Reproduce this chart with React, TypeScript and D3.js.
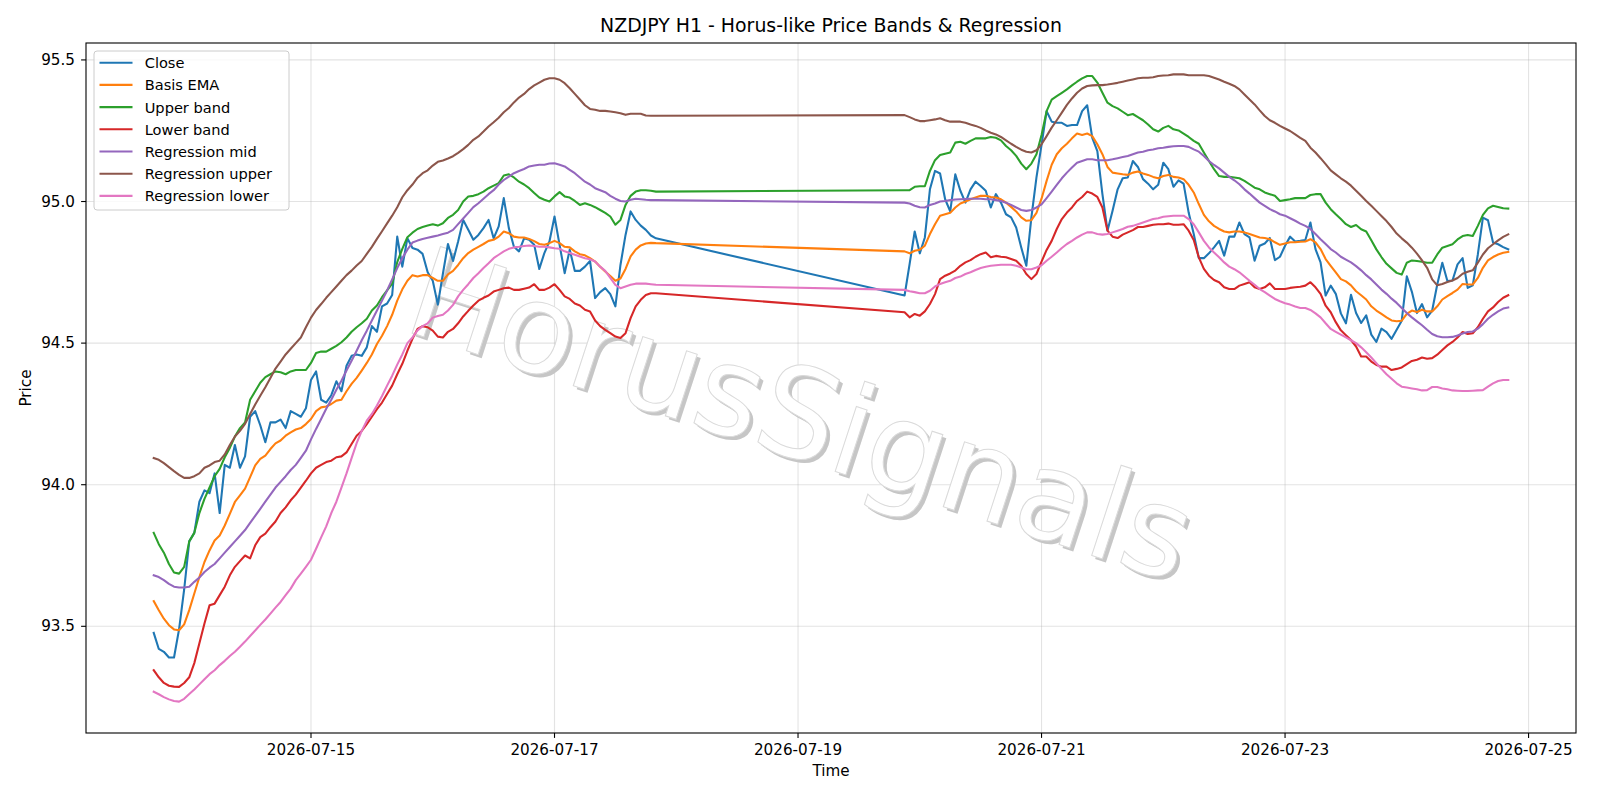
import React from "react";
import * as d3 from "d3";

// ---------- DATA ----------
const T0 = Date.UTC(2026, 6, 13, 17); // first hourly bar
const HOUR = 3600e3;
// hourly bars: Mon 13 17:00 .. Fri 17 20:00, then Sun 19 21:00 .. Fri 24 20:00
const hourOffsets: number[] = [...d3.range(0, 100), ...d3.range(148, 268)];
const times: Date[] = hourOffsets.map((h) => new Date(T0 + h * HOUR));

const closeVals = [
  93.477, 93.42, 93.41, 93.39, 93.39, 93.49, 93.63, 93.80, 93.83, 93.94,
  93.98, 93.97, 94.04, 93.90, 94.07, 94.06, 94.14, 94.06, 94.10, 94.24,
  94.26, 94.21, 94.15, 94.22, 94.22, 94.23, 94.20, 94.26, 94.25, 94.24,
  94.27, 94.37, 94.40, 94.30, 94.29, 94.316, 94.365, 94.33, 94.42, 94.455,
  94.46, 94.455, 94.485, 94.56, 94.54, 94.63, 94.64, 94.67, 94.876, 94.77,
  94.87, 94.836, 94.83, 94.815, 94.75, 94.72, 94.636, 94.745, 94.85, 94.79,
  94.859, 94.935, 94.90, 94.865, 94.882, 94.906, 94.935, 94.87, 94.912, 95.012,
  94.906, 94.84, 94.824, 94.87, 94.865, 94.847, 94.762, 94.818, 94.859, 94.947,
  94.847, 94.747, 94.83, 94.755, 94.755, 94.77, 94.79, 94.659, 94.68, 94.694,
  94.673, 94.63, 94.776, 94.882, 94.965, 94.935, 94.915, 94.90, 94.88, 94.87,
  94.668, 94.78, 94.894, 94.817, 94.873, 95.043, 95.108, 95.099, 95.008, 94.965,
  95.096, 95.038, 94.996, 95.043, 95.07, 95.055, 95.038, 94.979, 95.026, 94.996,
  94.955, 94.944, 94.908, 94.838, 94.773, 94.944, 95.085, 95.2, 95.319, 95.282,
  95.278, 95.278, 95.267, 95.27, 95.27, 95.319, 95.34, 95.225, 95.178, 95.026,
  94.897, 94.967, 95.043, 95.082, 95.085, 95.143, 95.122, 95.079, 95.063, 95.043,
  95.059, 95.137, 95.114, 95.052, 95.075, 95.063, 94.961, 94.885, 94.80, 94.80,
  94.817, 94.838, 94.861, 94.809, 94.876, 94.876, 94.926, 94.885, 94.873, 94.791,
  94.844, 94.852, 94.871, 94.793, 94.805, 94.844, 94.876, 94.859, 94.861, 94.864,
  94.926, 94.832, 94.785, 94.668, 94.703, 94.674, 94.605, 94.57, 94.671, 94.606,
  94.571, 94.598, 94.53, 94.504, 94.551, 94.539, 94.515, 94.547, 94.579, 94.736,
  94.681, 94.606, 94.638, 94.591, 94.615, 94.707, 94.784, 94.719, 94.721, 94.778,
  94.80, 94.695, 94.704, 94.813, 94.943, 94.934, 94.855, 94.849, 94.839, 94.831,
];

const basisEma = [
  93.589, 93.557, 93.527, 93.504, 93.489, 93.486, 93.507, 93.557, 93.616, 93.674,
  93.727, 93.768, 93.803, 93.821, 93.856, 93.897, 93.939, 93.962, 93.986, 94.027,
  94.068, 94.091, 94.103, 94.126, 94.146, 94.156, 94.173, 94.185, 94.195, 94.20,
  94.214, 94.232, 94.26, 94.273, 94.276, 94.285, 94.297, 94.30, 94.33, 94.356,
  94.377, 94.403, 94.43, 94.46, 94.497, 94.526, 94.56, 94.60, 94.65, 94.69,
  94.72, 94.74, 94.735, 94.74, 94.74, 94.73, 94.72, 94.72, 94.743, 94.755,
  94.776, 94.80, 94.818, 94.83, 94.84, 94.85, 94.861, 94.865, 94.876, 94.894,
  94.888, 94.876, 94.873, 94.873, 94.868, 94.86, 94.85, 94.847, 94.853, 94.861,
  94.853, 94.84, 94.838, 94.824, 94.814, 94.81, 94.80, 94.788, 94.77, 94.753,
  94.737, 94.72, 94.728, 94.762, 94.806, 94.83, 94.845, 94.852, 94.854, 94.853,
  94.824, 94.817, 94.826, 94.83, 94.844, 94.885, 94.92, 94.95, 94.955, 94.96,
  94.979, 94.993, 95.0, 95.008, 95.014, 95.02, 95.02, 95.016, 95.014, 95.008,
  94.996, 94.981, 94.965, 94.944, 94.932, 94.934, 94.96, 95.01, 95.073, 95.13,
  95.167, 95.188, 95.204, 95.223, 95.24, 95.235, 95.24, 95.231, 95.202, 95.167,
  95.122, 95.102, 95.099, 95.096, 95.094, 95.102, 95.106, 95.099, 95.094, 95.087,
  95.082, 95.09, 95.094, 95.087, 95.085, 95.079, 95.059, 95.032, 94.991, 94.953,
  94.93, 94.914, 94.903, 94.894, 94.891, 94.894, 94.894, 94.891, 94.885, 94.879,
  94.873, 94.871, 94.867, 94.856, 94.847, 94.852, 94.856, 94.856, 94.858, 94.859,
  94.867, 94.856, 94.832, 94.797, 94.773, 94.75, 94.726, 94.718, 94.704, 94.683,
  94.669, 94.654, 94.63, 94.615, 94.603, 94.591, 94.58, 94.577, 94.579, 94.603,
  94.615, 94.61, 94.618, 94.612, 94.612, 94.63, 94.654, 94.666, 94.677, 94.689,
  94.709, 94.707, 94.707, 94.73, 94.766, 94.792, 94.804, 94.813, 94.819, 94.822,
];

const upperBand = [
  93.83, 93.79, 93.76, 93.72, 93.69, 93.686, 93.71, 93.80, 93.83, 93.90,
  93.95, 93.99, 94.03, 94.056, 94.097, 94.13, 94.17, 94.20, 94.22, 94.30,
  94.33, 94.36, 94.38, 94.39, 94.40, 94.397, 94.39, 94.40, 94.405, 94.405,
  94.405, 94.43, 94.465, 94.47, 94.47, 94.48, 94.49, 94.503, 94.52, 94.54,
  94.556, 94.57, 94.586, 94.615, 94.633, 94.662, 94.686, 94.71, 94.786, 94.833,
  94.874, 94.89, 94.903, 94.91, 94.915, 94.92, 94.915, 94.923, 94.942, 94.953,
  94.97, 95.0, 95.018, 95.02, 95.026, 95.035, 95.047, 95.056, 95.065, 95.092,
  95.096, 95.085, 95.07, 95.06, 95.047, 95.03, 95.014, 95.006, 95.0, 95.018,
  95.033, 95.018, 95.014, 95.002, 94.988, 94.994, 94.988, 94.98, 94.97, 94.96,
  94.947, 94.918, 94.935, 94.988, 95.02, 95.035, 95.04, 95.04, 95.038, 95.035,
  95.04, 95.04, 95.052, 95.054, 95.054, 95.108, 95.146, 95.164, 95.169, 95.173,
  95.208, 95.211, 95.204, 95.214, 95.223, 95.223, 95.223, 95.228, 95.225, 95.216,
  95.196, 95.181, 95.161, 95.134, 95.114, 95.134, 95.167, 95.235, 95.319, 95.36,
  95.372, 95.384, 95.396, 95.41, 95.423, 95.435, 95.443, 95.443, 95.42, 95.384,
  95.349, 95.337, 95.329, 95.317, 95.305, 95.309, 95.298, 95.287, 95.272, 95.255,
  95.247, 95.26, 95.267, 95.255, 95.251, 95.24, 95.228, 95.214, 95.204, 95.173,
  95.143, 95.114, 95.09, 95.087, 95.087, 95.085, 95.082, 95.073, 95.061, 95.049,
  95.043, 95.032, 95.026, 95.02, 95.002, 95.005, 95.008, 95.012, 95.012, 95.012,
  95.023, 95.026, 95.026, 94.996, 94.973, 94.955, 94.938, 94.92, 94.91, 94.917,
  94.902, 94.894, 94.863, 94.831, 94.804, 94.78, 94.764, 94.748, 94.742, 94.784,
  94.792, 94.79, 94.787, 94.784, 94.784, 94.813, 94.837, 94.843, 94.849, 94.866,
  94.878, 94.882, 94.878, 94.914, 94.953, 94.976, 94.985, 94.981, 94.976, 94.975,
];

const lowerBand = [
  93.345, 93.32, 93.30, 93.29, 93.287, 93.286, 93.30, 93.32, 93.37, 93.44,
  93.51, 93.574, 93.58, 93.61, 93.64, 93.68, 93.71, 93.73, 93.75, 93.74,
  93.786, 93.815, 93.827, 93.85, 93.87, 93.90, 93.92, 93.945, 93.965, 93.99,
  94.014, 94.04, 94.06, 94.07, 94.08, 94.085, 94.097, 94.10, 94.114, 94.144,
  94.173, 94.19, 94.214, 94.24, 94.267, 94.29, 94.32, 94.35, 94.39, 94.427,
  94.473, 94.515, 94.55, 94.56, 94.556, 94.544, 94.523, 94.52, 94.54, 94.55,
  94.57, 94.594, 94.614, 94.633, 94.65, 94.66, 94.668, 94.682, 94.688, 94.694,
  94.696, 94.688, 94.688, 94.692, 94.696, 94.708, 94.688, 94.688, 94.696, 94.708,
  94.688, 94.665, 94.656, 94.64, 94.633, 94.618, 94.612, 94.58, 94.56, 94.547,
  94.535, 94.523, 94.518, 94.535, 94.588, 94.63, 94.653, 94.67, 94.676, 94.676,
  94.609, 94.591, 94.603, 94.597, 94.612, 94.638, 94.673, 94.726, 94.738, 94.746,
  94.756, 94.773, 94.785, 94.793, 94.805, 94.814, 94.82, 94.803, 94.808, 94.805,
  94.803, 94.797, 94.791, 94.773, 94.744, 94.726, 94.744, 94.788, 94.829, 94.861,
  94.903, 94.938, 94.961, 94.979, 95.002, 95.016, 95.035, 95.028, 95.016, 94.979,
  94.897, 94.876, 94.871, 94.883, 94.891, 94.899, 94.91, 94.91, 94.914, 94.918,
  94.92, 94.92, 94.922, 94.918, 94.918, 94.92, 94.897, 94.864, 94.803, 94.762,
  94.738, 94.723, 94.715, 94.697, 94.691, 94.691, 94.703, 94.709, 94.715, 94.697,
  94.691, 94.697, 94.711, 94.691, 94.691, 94.691, 94.695, 94.697, 94.699, 94.703,
  94.715, 94.697, 94.674, 94.632, 94.609, 94.574, 94.545, 94.528, 94.511, 94.488,
  94.453, 94.453, 94.435, 94.423, 94.417, 94.417, 94.405, 94.409, 94.414, 94.426,
  94.437, 94.441, 94.449, 94.445, 94.447, 94.459, 94.476, 94.492, 94.504, 94.52,
  94.539, 94.532, 94.535, 94.556, 94.586, 94.612, 94.626, 94.645, 94.66, 94.669,
];

const regMid = [
  93.68, 93.674, 93.663, 93.65, 93.64, 93.637, 93.637, 93.64, 93.657, 93.672,
  93.692, 93.707, 93.72, 93.74, 93.76, 93.78, 93.80, 93.82, 93.84, 93.865,
  93.89, 93.915, 93.94, 93.965, 93.99, 94.01, 94.03, 94.052, 94.07, 94.095,
  94.12, 94.16, 94.197, 94.232, 94.268, 94.30, 94.335, 94.367, 94.403, 94.438,
  94.473, 94.51, 94.544, 94.58, 94.615, 94.65, 94.686, 94.725, 94.765, 94.80,
  94.83, 94.855, 94.862, 94.868, 94.872, 94.876, 94.88, 94.885, 94.89, 94.90,
  94.92, 94.94, 94.96, 94.98, 94.994, 95.01, 95.026, 95.04, 95.06, 95.076,
  95.088, 95.10, 95.108, 95.115, 95.124, 95.127, 95.13, 95.13, 95.134, 95.135,
  95.13, 95.124, 95.112, 95.10, 95.085, 95.07, 95.06, 95.047, 95.04, 95.033,
  95.02, 95.01, 95.002, 95.0, 95.006, 95.01, 95.008, 95.006, 95.005, 95.005,
  94.996, 94.993, 94.985, 94.98, 94.979, 94.988, 94.993, 95.0, 95.002, 95.005,
  95.007, 95.008, 95.009, 95.01, 95.01, 95.01, 95.008, 95.008, 95.005, 95.002,
  94.996, 94.988, 94.979, 94.97, 94.967, 94.97, 94.979, 94.99, 95.012, 95.035,
  95.059, 95.082, 95.102, 95.12, 95.137, 95.143, 95.149, 95.149, 95.146, 95.146,
  95.146, 95.149, 95.153, 95.157, 95.161, 95.167, 95.173, 95.176, 95.181, 95.184,
  95.188, 95.19, 95.193, 95.195, 95.196, 95.196, 95.193, 95.184, 95.176, 95.161,
  95.143, 95.129, 95.117, 95.102, 95.087, 95.075, 95.061, 95.043, 95.028, 95.012,
  94.996, 94.985, 94.973, 94.965, 94.955, 94.95, 94.941, 94.932, 94.922, 94.914,
  94.903, 94.885, 94.867, 94.85, 94.832, 94.82, 94.805, 94.795, 94.785, 94.772,
  94.757, 94.74, 94.725, 94.707, 94.689, 94.674, 94.657, 94.642, 94.624, 94.606,
  94.591, 94.577, 94.563, 94.547, 94.532, 94.524, 94.521, 94.521, 94.522, 94.527,
  94.534, 94.539, 94.541, 94.551, 94.567, 94.586, 94.60, 94.612, 94.622, 94.626,
];

const regUpper = [
  94.094, 94.088, 94.076, 94.062, 94.048, 94.035, 94.024, 94.024, 94.03, 94.04,
  94.06, 94.068, 94.08, 94.085, 94.107, 94.14, 94.17, 94.19, 94.215, 94.25,
  94.283, 94.314, 94.344, 94.377, 94.41, 94.435, 94.46, 94.48, 94.50, 94.52,
  94.556, 94.59, 94.617, 94.638, 94.66, 94.68, 94.70, 94.72, 94.74, 94.756,
  94.774, 94.79, 94.815, 94.84, 94.868, 94.895, 94.923, 94.95, 94.98, 95.015,
  95.04, 95.06, 95.084, 95.10, 95.11, 95.127, 95.14, 95.145, 95.152, 95.16,
  95.172, 95.185, 95.20, 95.218, 95.23, 95.247, 95.265, 95.28, 95.296, 95.315,
  95.33, 95.35, 95.367, 95.38, 95.397, 95.41, 95.42, 95.43, 95.435, 95.435,
  95.43, 95.418, 95.40, 95.38, 95.36, 95.34, 95.327, 95.324, 95.32, 95.32,
  95.318, 95.315, 95.312, 95.306, 95.31, 95.31, 95.31, 95.304, 95.303, 95.303,
  95.305, 95.298, 95.29, 95.284, 95.284, 95.287, 95.29, 95.294, 95.287, 95.282,
  95.282, 95.282, 95.278, 95.272, 95.267, 95.26, 95.251, 95.243, 95.237, 95.228,
  95.216, 95.204, 95.193, 95.183, 95.176, 95.173, 95.181, 95.202, 95.231, 95.261,
  95.287, 95.314, 95.341, 95.364, 95.384, 95.399, 95.408, 95.41, 95.411, 95.411,
  95.413, 95.416, 95.419, 95.423, 95.427, 95.431, 95.435, 95.437, 95.437, 95.439,
  95.443, 95.445, 95.446, 95.449, 95.449, 95.449, 95.446, 95.446, 95.446, 95.446,
  95.443, 95.437, 95.431, 95.423, 95.416, 95.408, 95.396, 95.378, 95.36, 95.343,
  95.322, 95.302, 95.287, 95.278, 95.267, 95.258, 95.249, 95.237, 95.225, 95.214,
  95.19, 95.173, 95.153, 95.132, 95.11, 95.096, 95.082, 95.07, 95.056, 95.038,
  95.02, 95.002, 94.985, 94.967, 94.949, 94.931, 94.91, 94.887, 94.87, 94.855,
  94.837, 94.816, 94.792, 94.766, 94.725, 94.704, 94.709, 94.716, 94.721, 94.73,
  94.745, 94.752, 94.757, 94.784, 94.813, 94.835, 94.849, 94.863, 94.875, 94.884,
];

const regLower = [
  93.269, 93.26, 93.25, 93.242, 93.236, 93.234, 93.244, 93.261, 93.277, 93.295,
  93.313, 93.331, 93.345, 93.363, 93.378, 93.395, 93.41, 93.428, 93.446, 93.466,
  93.485, 93.505, 93.524, 93.545, 93.566, 93.586, 93.61, 93.633, 93.663, 93.686,
  93.71, 93.735, 93.774, 93.814, 93.853, 93.90, 93.94, 93.99, 94.04, 94.094,
  94.147, 94.19, 94.226, 94.25, 94.28, 94.313, 94.35, 94.385, 94.424, 94.46,
  94.50, 94.52, 94.545, 94.56, 94.57, 94.59, 94.596, 94.60, 94.615, 94.635,
  94.665, 94.688, 94.708, 94.73, 94.747, 94.765, 94.782, 94.80, 94.812, 94.824,
  94.833, 94.838, 94.84, 94.843, 94.845, 94.843, 94.84, 94.84, 94.838, 94.835,
  94.833, 94.824, 94.818, 94.812, 94.806, 94.80, 94.796, 94.788, 94.77, 94.755,
  94.73, 94.706, 94.694, 94.70, 94.706, 94.71, 94.71, 94.71, 94.708, 94.706,
  94.688, 94.683, 94.68, 94.676, 94.676, 94.685, 94.70, 94.709, 94.715, 94.72,
  94.73, 94.735, 94.744, 94.75, 94.758, 94.765, 94.77, 94.773, 94.775, 94.777,
  94.777, 94.777, 94.773, 94.767, 94.761, 94.761, 94.767, 94.775, 94.791, 94.805,
  94.82, 94.836, 94.85, 94.861, 94.873, 94.883, 94.891, 94.891, 94.885, 94.883,
  94.885, 94.891, 94.897, 94.903, 94.911, 94.914, 94.92, 94.926, 94.932, 94.938,
  94.941, 94.946, 94.948, 94.95, 94.95, 94.95, 94.938, 94.92, 94.891, 94.861,
  94.838, 94.82, 94.803, 94.785, 94.77, 94.761, 94.75, 94.735, 94.72, 94.706,
  94.691, 94.68, 94.668, 94.656, 94.648, 94.641, 94.636, 94.629, 94.624, 94.624,
  94.617, 94.605, 94.591, 94.57, 94.55, 94.54, 94.53, 94.52, 94.51, 94.5,
  94.485, 94.468, 94.449, 94.429, 94.409, 94.39, 94.374, 94.358, 94.346, 94.343,
  94.34, 94.337, 94.333, 94.334, 94.345, 94.345, 94.34, 94.337, 94.333, 94.332,
  94.331, 94.331, 94.332, 94.333, 94.334, 94.346, 94.358, 94.366, 94.37, 94.37,
];

const seriesNames = [
  "Close",
  "Basis EMA",
  "Upper band",
  "Lower band",
  "Regression mid",
  "Regression upper",
  "Regression lower",
];
const seriesValues = [closeVals, basisEma, upperBand, lowerBand, regMid, regUpper, regLower];
const seriesColors = ["#1f77b4", "#ff7f0e", "#2ca02c", "#d62728", "#9467bd", "#8c564b", "#e377c2"];

const xTickDates = ["2026-07-15", "2026-07-17", "2026-07-19", "2026-07-21", "2026-07-23", "2026-07-25"];
const yTickValues = [93.5, 94.0, 94.5, 95.0, 95.5];

const TITLE = "NZDJPY H1 - Horus-like Price Bands & Regression";
const WATERMARK = "HorusSignals";

// ---------- CHART ----------
const FONT = "'DejaVu Sans', sans-serif";

export default function App() {
  const W = 1600;
  const H = 800;
  const L = 86, R = 1576, T = 43, B = 733;

  const tMin = times[0].getTime();
  const tMax = times[times.length - 1].getTime();
  const span = tMax - tMin;
  const x = d3
    .scaleUtc()
    .domain([new Date(tMin - 0.05 * span), new Date(tMax + 0.05 * span)])
    .range([L, R]);

  const all = seriesValues.flat();
  const vMin = d3.min(all) as number;
  const vMax = d3.max(all) as number;
  const vPad = (vMax - vMin) * 0.05;
  const y = d3.scaleLinear().domain([vMin - vPad, vMax + vPad]).range([B, T]);

  const line = d3
    .line<number>()
    .x((_, i) => x(times[i]))
    .y((d) => y(d));

  const xTicks = xTickDates.map((s) => ({ label: s, pos: x(new Date(s + "T00:00:00Z")) }));

  const gridColor = "#b0b0b0";
  const legendX = 94, legendY = 51, legendW = 195, legendH = 159;
  const rowH = 22.2;
  const tickFont = 15.2;
  const legendFont = 14.6;

  return (
    <svg
      width={W}
      height={H}
      style={{ position: "absolute", left: 0, top: 0, background: "#fff" }}
      fontFamily={FONT}
    >
      <rect x={0} y={0} width={W} height={H} fill="#fff" />
      {/* grid */}
      <g stroke={gridColor} strokeOpacity={0.35} strokeWidth={1.1}>
        {xTicks.map((t) => (
          <line key={t.label} x1={t.pos} x2={t.pos} y1={T} y2={B} />
        ))}
        {yTickValues.map((v) => (
          <line key={v} x1={L} x2={R} y1={y(v)} y2={y(v)} />
        ))}
      </g>

      {/* watermark */}
      <g fontSize={125} textAnchor="middle">
        <text transform="translate(791.5,459.5) rotate(18.1)" fill="#c6c6c6">
          {WATERMARK}
        </text>
        <text transform="translate(788,456) rotate(18.1)" fill="#ffffff" stroke="#dadada" strokeWidth={1}>
          {WATERMARK}
        </text>
      </g>

      {/* series */}
      <g fill="none" strokeWidth={2.08} strokeLinejoin="round" strokeLinecap="square">
        {seriesValues.map((vals, k) => (
          <path key={seriesNames[k]} d={line(vals) || ""} stroke={seriesColors[k]} />
        ))}
      </g>

      {/* spines */}
      <rect x={L} y={T} width={R - L} height={B - T} fill="none" stroke="#000" strokeWidth={1.1} />

      {/* ticks */}
      <g fontSize={tickFont} fill="#000">
        {xTicks.map((t) => (
          <g key={t.label}>
            <line x1={t.pos} x2={t.pos} y1={B} y2={B + 4.9} stroke="#000" strokeWidth={1.1} />
            <text x={t.pos} y={754.5} textAnchor="middle">
              {t.label}
            </text>
          </g>
        ))}
        {yTickValues.map((v) => (
          <g key={v}>
            <line x1={L - 4.9} x2={L} y1={y(v)} y2={y(v)} stroke="#000" strokeWidth={1.1} />
            <text x={75} y={y(v)} textAnchor="end" dominantBaseline="central">
              {v.toFixed(1)}
            </text>
          </g>
        ))}
      </g>

      {/* axis labels and title */}
      <text x={(L + R) / 2} y={776} textAnchor="middle" fontSize={tickFont}>
        Time
      </text>
      <text transform={`translate(31,${(T + B) / 2}) rotate(-90)`} textAnchor="middle" fontSize={tickFont}>
        Price
      </text>
      <text x={(L + R) / 2} y={32} textAnchor="middle" fontSize={18.9}>
        {TITLE}
      </text>

      {/* legend */}
      <g>
        <rect
          x={legendX}
          y={legendY}
          width={legendW}
          height={legendH}
          rx={3}
          fill="#fff"
          fillOpacity={0.8}
          stroke="#cccccc"
          strokeWidth={1}
        />
        {seriesNames.map((name, k) => {
          const cy = 62.7 + k * rowH;
          return (
            <g key={name}>
              <line x1={99.5} x2={132.5} y1={cy} y2={cy} stroke={seriesColors[k]} strokeWidth={2.08} />
              <text x={144.7} y={cy} dominantBaseline="central" fontSize={legendFont}>
                {name}
              </text>
            </g>
          );
        })}
      </g>
    </svg>
  );
}
